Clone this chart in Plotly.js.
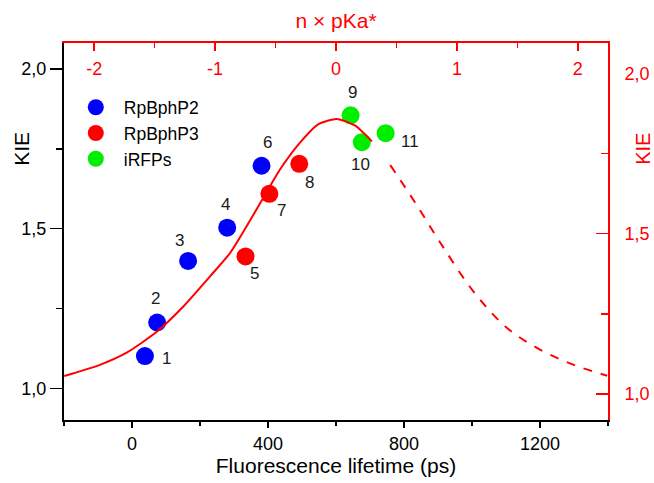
<!DOCTYPE html>
<html>
<head>
<meta charset="utf-8">
<script src="https://cdn.plot.ly/plotly-3.0.1.min.js"></script>
<style>
html,body{margin:0;padding:0;background:#fff;}
#chart{width:654px;height:483px;}
</style>
</head>
<body>
<div id="chart"></div>
<script>
// Data points (bottom x: fluorescence lifetime ps, left y: KIE)
const p2Lifetime = [38, 74, 165, 280, 381];
const p2KIE      = [1.101, 1.206, 1.399, 1.503, 1.697];
const p2Labels   = ["1", "2", "3", "4", "6"];

const p3Lifetime = [334, 404, 492];
const p3KIE      = [1.413, 1.609, 1.703];
const p3Labels   = ["5", "7", "8"];

const irLifetime = [643, 676, 746];
const irKIE      = [1.855, 1.771, 1.799];
const irLabels   = ["9", "10", "11"];

// Model curve (top x: n × pKa*, right y: KIE)
const curvePKa = [-2.248, -1.953, -1.732, -1.483, -1.263, -1.042, -0.876, -0.738, -0.600, -0.462, -0.296, -0.145, 0.007, 0.159, 0.297];
const curveKIE = [1.056, 1.091, 1.129, 1.194, 1.273, 1.367, 1.440, 1.524, 1.613, 1.701, 1.785, 1.842, 1.858, 1.837, 1.788];
const dashPKa  = [0.449, 0.65, 0.863, 1.139, 1.415, 1.691, 1.967, 2.243];
const dashKIE  = [1.714, 1.600, 1.472, 1.319, 1.206, 1.138, 1.091, 1.057];

const topTickVals = [-2, -1, 0, 1, 2];
const topTickText = ["-2", "-1", "0", "1", "2"];

// label offsets (px) for the point numbers
const labelShift = {
  "1": [22, -2], "2": [-2, 24], "3": [-9, 20], "4": [-2, 23], "5": [9, -17],
  "6": [6, 23], "7": [12, -17], "8": [10, -19], "9": [2, 23], "10": [-1, -22], "11": [24, -8]
};

const FONT = "Liberation Sans, Arial, sans-serif";
const RED = "#ff0000";
const RIGHT_RANGE = [0.919, 2.095];

const traces = [
  {x: curvePKa, y: curveKIE, xaxis: "x2", yaxis: "y2", mode: "lines", type: "scatter",
   line: {color: RED, width: 2, shape: "spline", smoothing: 0.6}, showlegend: false, hoverinfo: "skip"},
  {x: dashPKa, y: dashKIE, xaxis: "x2", yaxis: "y2", mode: "lines", type: "scatter",
   line: {color: RED, width: 2, dash: "dash", shape: "spline"}, showlegend: false, hoverinfo: "skip"},
  {x: p2Lifetime, y: p2KIE, mode: "markers", type: "scatter", name: "RpBphP2",
   marker: {color: "#0000ff", size: 18}},
  {x: p3Lifetime, y: p3KIE, mode: "markers", type: "scatter", name: "RpBphP3",
   marker: {color: "#ff0000", size: 18}},
  {x: irLifetime, y: irKIE, mode: "markers", type: "scatter", name: "iRFPs",
   marker: {color: "#00ee00", size: 18}},
  // invisible trace that carries the label-only right axis
  {x: [0], y: [1.5], xaxis: "x", yaxis: "y3", mode: "markers", type: "scatter",
   marker: {opacity: 0}, showlegend: false, hoverinfo: "skip"}
];

const annotations = [];
function addLabels(xs, ys, labels) {
  xs.forEach((x, i) => {
    const s = labelShift[labels[i]];
    annotations.push({x: x, y: ys[i], xref: "x", yref: "y", text: labels[i], showarrow: false,
      xshift: s[0], yshift: s[1], font: {family: FONT, size: 17, color: "#1a1a1a"}});
  });
}
addLabels(p2Lifetime, p2KIE, p2Labels);
addLabels(p3Lifetime, p3KIE, p3Labels);
addLabels(irLifetime, irKIE, irLabels);

// axis titles for the KIE axes (placed beside the upper tick labels, as in the original)
annotations.push({xref: "paper", yref: "y", x: 0, y: 1.75, xanchor: "center", yanchor: "middle",
  xshift: -42, text: "KIE", textangle: -90, showarrow: false,
  font: {family: FONT, size: 21, color: "#000"}});
annotations.push({xref: "paper", yref: "y", x: 1, y: 1.75, xanchor: "center", yanchor: "middle",
  xshift: 35, text: "KIE", textangle: -90, showarrow: false,
  font: {family: FONT, size: 20, color: RED}});

const layout = {
  width: 654, height: 483,
  margin: {l: 64, r: 46, t: 43, b: 63},
  paper_bgcolor: "#fff", plot_bgcolor: "#fff",
  separators: ",.",
  font: {family: FONT, size: 18, color: "#000"},
  showlegend: true,
  legend: {x: 0.007, y: 0.877, xanchor: "left", yanchor: "top", bgcolor: "rgba(0,0,0,0)",
           font: {family: FONT, size: 17.5, color: "#000"}, itemsizing: "trace", itemwidth: 46, tracegroupgap: 0},
  xaxis: {
    range: [-200, 1400], dtick: 400, tick0: 0,
    showgrid: false, zeroline: false, showline: true, linecolor: "#000", linewidth: 2,
    ticks: "outside", ticklen: 6, tickwidth: 1.5, tickcolor: "#000",
    minor: {dtick: 200, ticks: "outside", ticklen: 4, tickcolor: "#000", tickwidth: 1.5},
    tickfont: {family: FONT, size: 18, color: "#000"},
    title: {text: "Fluorescence lifetime (ps)", font: {family: FONT, size: 21, color: "#000"}, standoff: 5},
    mirror: false
  },
  xaxis2: {
    overlaying: "x", side: "top", anchor: "y",
    range: [-2.25, 2.25], tickvals: topTickVals, ticktext: topTickText,
    showgrid: false, zeroline: false, showline: true, linecolor: RED, linewidth: 2,
    ticks: "inside", ticklen: 8, tickwidth: 1.5, tickcolor: RED,
    ticklabelposition: "inside", ticklabelstandoff: 12,
    minor: {dtick: 0.5, tick0: 0, ticks: "inside", ticklen: 5, tickcolor: RED, tickwidth: 1.5},
    tickfont: {family: FONT, size: 18, color: RED},
    title: {text: "n × pKa*", font: {family: FONT, size: 21, color: RED}, standoff: 25}
  },
  yaxis: {
    range: [0.9006, 2.0815], dtick: 0.5, tick0: 0, tickformat: ".1f",
    showgrid: false, zeroline: false, showline: true, linecolor: "#000", linewidth: 2,
    ticks: "outside", ticklen: 12, tickwidth: 1.5, tickcolor: "#000",
    minor: {dtick: 0.25, ticks: "outside", ticklen: 6, tickcolor: "#000", tickwidth: 1.5},
    tickfont: {family: FONT, size: 18, color: "#000"}
  },
  yaxis2: {
    overlaying: "y", side: "right", anchor: "x",
    range: RIGHT_RANGE, dtick: 0.5, tick0: 0,
    showgrid: false, zeroline: false, showline: true, linecolor: RED, linewidth: 2,
    ticks: "inside", ticklen: 12, tickwidth: 1.5, tickcolor: RED, showticklabels: false,
    minor: {dtick: 0.25, ticks: "inside", ticklen: 7, tickcolor: RED, tickwidth: 1.5}
  },
  yaxis3: {
    overlaying: "y", side: "right", anchor: "x",
    range: RIGHT_RANGE, dtick: 0.5, tick0: 0, tickformat: ".1f",
    showgrid: false, zeroline: false, showline: false,
    ticks: "outside", ticklen: 12, tickcolor: "rgba(0,0,0,0)",
    tickfont: {family: FONT, size: 18, color: RED}
  },
  annotations: annotations
};

Plotly.newPlot("chart", traces, layout, {displayModeBar: false, staticPlot: true});
</script>
</body>
</html>
